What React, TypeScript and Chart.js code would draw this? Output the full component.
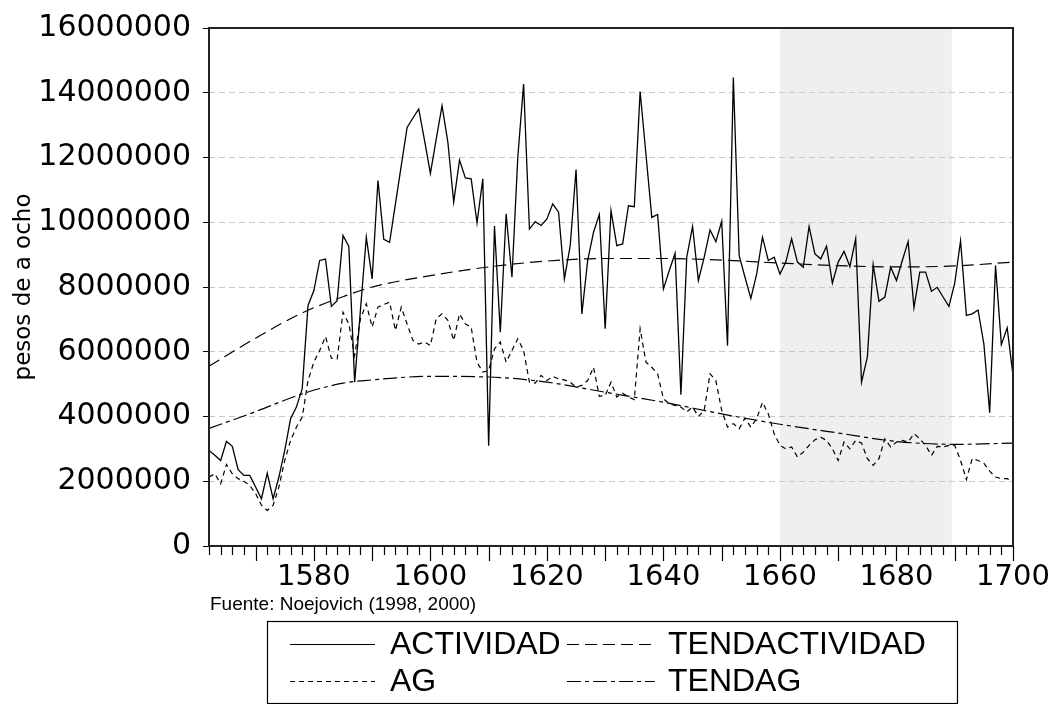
import React, { useEffect, useRef } from "react";
import { Chart, registerables } from "chart.js";

Chart.register(...registerables);

// ---- data (values in millions of pesos de a ocho) ----
const START_YEAR = 1562;
const END_YEAR = 1700;

const ACTIVIDAD = [
  2.95, 2.8, 2.64, 3.23, 3.08, 2.36, 2.18, 2.18, 1.82, 1.46,
  2.25, 1.46, 2.13, 2.95, 3.93, 4.29, 4.86, 7.43, 7.89, 8.82,
  8.86, 7.4, 7.58, 9.59, 9.25, 5.06, 7.3, 9.54, 8.25, 11.29,
  9.47, 9.38, 10.57, 11.75, 12.93, 13.22, 13.5, 12.52, 11.51, 12.57,
  13.6, 12.47, 10.62, 11.92, 11.37, 11.34, 9.98, 11.34, 3.1, 9.88,
  6.6, 10.26, 8.3, 12.0, 14.27, 9.79, 10.02, 9.9, 10.1, 10.57,
  10.31, 8.25, 9.28, 11.63, 7.17, 8.82, 9.69, 10.24, 6.71, 10.36,
  9.28, 9.33, 10.51, 10.48, 14.04, 12.1, 10.15, 10.24, 7.94, 8.51,
  9.04, 4.67, 8.92, 9.87, 8.2, 8.92, 9.76, 9.4, 10.03, 6.19,
  14.47, 8.97, 8.3, 7.65, 8.4, 9.54, 8.82, 8.92, 8.4, 8.77,
  9.49, 8.77, 8.61, 9.87, 9.02, 8.87, 9.26, 8.12, 8.77, 9.1,
  8.63, 9.49, 5.06, 5.83, 8.69, 7.56, 7.69, 8.61, 8.2, 8.82,
  9.4, 7.36, 8.46, 8.46, 7.87, 7.99, 7.69, 7.4, 8.12, 9.43,
  7.12, 7.17, 7.29, 6.24, 4.12, 8.66, 6.22, 6.74, 5.27,
];

const AG = [
  2.13, 2.23, 1.92, 2.52, 2.23, 2.08, 2.0, 1.87, 1.62, 1.26,
  1.1, 1.26, 1.82, 2.64, 3.26, 3.67, 3.98, 5.11, 5.68, 6.04,
  6.47, 5.8, 5.78, 7.22, 6.86, 5.88, 7.02, 7.48, 6.76, 7.38,
  7.46, 7.53, 6.66, 7.38, 6.86, 6.35, 6.24, 6.3, 6.19, 7.02,
  7.17, 6.97, 6.35, 7.17, 6.86, 6.76, 5.68, 5.37, 5.42, 6.09,
  6.3, 5.68, 6.04, 6.4, 6.04, 5.06, 5.03, 5.27, 5.11, 5.24,
  5.16, 5.13, 5.06, 4.91, 4.96, 5.11, 5.52, 4.62, 4.65, 5.06,
  4.6, 4.72, 4.6, 4.52, 6.71, 5.68, 5.52, 5.32, 4.55, 4.39,
  4.34, 4.29, 4.14, 4.29, 4.0, 4.19, 5.32, 5.11, 4.19, 3.67,
  3.78, 3.62, 3.95, 3.67, 3.93, 4.44, 4.08, 3.47, 3.11, 3.0,
  3.06, 2.75, 2.9, 3.11, 3.28, 3.36, 3.26, 3.0, 2.64, 3.21,
  3.0, 3.26, 3.18, 2.7, 2.49, 2.7, 3.31, 3.06, 3.21, 3.26,
  3.21, 3.47, 3.31, 3.11, 2.8, 3.08, 3.06, 3.11, 3.11, 2.64,
  2.05, 2.7, 2.64, 2.56, 2.31, 2.13, 2.08, 2.08, 1.98,
];

const TREND_YEARS = [1562, 1570, 1578, 1585, 1590, 1600, 1610, 1620, 1630, 1640, 1650, 1660, 1670, 1680, 1690, 1700];
const TENDACTIVIDAD = [5.55, 6.42, 7.2, 7.7, 8.0, 8.35, 8.62, 8.8, 8.88, 8.88, 8.83, 8.74, 8.66, 8.62, 8.65, 8.77];
const TENDAG = [3.63, 4.15, 4.7, 5.03, 5.13, 5.24, 5.22, 5.06, 4.75, 4.44, 4.08, 3.76, 3.49, 3.23, 3.14, 3.18];

const Y_MAX = 16000000;
const Y_STEP = 2000000;
const X_LABEL_EVERY = 20;
const X_TICK_EVERY = 2;
const X_MAJOR_EVERY = 10;
const SHADE_FROM = 1660;
const SHADE_TO = 1689.5;

const SERIES = ["ACTIVIDAD", "TENDACTIVIDAD", "AG", "TENDAG"];
const Y_TITLE = "pesos de a ocho";
const SOURCE = "Fuente: Noejovich (1998, 2000)";

const DASHES: Record<string, number[]> = {
  ACTIVIDAD: [],
  TENDACTIVIDAD: [12, 6],
  AG: [5, 4],
  TENDAG: [14, 4, 4, 4],
};

const W = 1059;
const H = 704;
const AREA = { left: 209, top: 28, right: 1013, bottom: 546 };

const toMillions = (v: number) => v * 1000000;

export default function App() {
  const ref = useRef<HTMLCanvasElement | null>(null);

  useEffect(() => {
    document.body.style.margin = "0";
    const canvas = ref.current;
    if (!canvas) return;

    const annual = (vals: number[]) => vals.map((v, i) => ({ x: START_YEAR + i, y: toMillions(v) }));
    const trend = (vals: number[]) => vals.map((v, i) => ({ x: TREND_YEARS[i], y: toMillions(v) }));

    const overlay = {
      id: "overlay",
      beforeDraw(chart: any) {
        const { ctx, chartArea, scales } = chart;
        const x0 = scales.x.getPixelForValue(SHADE_FROM);
        const x1 = scales.x.getPixelForValue(SHADE_TO);
        ctx.save();
        ctx.fillStyle = "#efefef";
        ctx.fillRect(x0, chartArea.top, x1 - x0, chartArea.bottom - chartArea.top);
        ctx.restore();
      },
      afterDraw(chart: any) {
        const { ctx, chartArea, scales } = chart;
        ctx.save();
        // frame
        ctx.strokeStyle = "#222";
        ctx.lineWidth = 2;
        ctx.setLineDash([]);
        ctx.strokeRect(chartArea.left, chartArea.top, chartArea.right - chartArea.left, chartArea.bottom - chartArea.top);
        // x ticks
        ctx.lineWidth = 1.2;
        ctx.strokeStyle = "#000";
        for (let yr = START_YEAR; yr <= END_YEAR; yr += X_TICK_EVERY) {
          const x = Math.round(scales.x.getPixelForValue(yr)) + 0.5;
          const len = yr % X_MAJOR_EVERY === 0 ? 15 : 9;
          ctx.beginPath();
          ctx.moveTo(x, chartArea.bottom);
          ctx.lineTo(x, chartArea.bottom + len);
          ctx.stroke();
        }
        // source
        ctx.fillStyle = "#000";
        ctx.font = '19px "Liberation Sans", Arial, sans-serif';
        ctx.textBaseline = "middle";
        ctx.textAlign = "left";
        ctx.fillText(SOURCE, 210, 605);
        // legend box
        const bx = 267, by = 621, bw = 690, bh = 82;
        ctx.lineWidth = 1.2;
        ctx.strokeStyle = "#000";
        ctx.strokeRect(bx + 0.5, by + 0.5, bw, bh);
        const rows = [644, 681];
        const cols = [
          { lx0: 290, lx1: 375, tx: 390 },
          { lx0: 567, lx1: 655, tx: 668 },
        ];
        const order = [
          [SERIES[0], SERIES[1]],
          [SERIES[2], SERIES[3]],
        ];
        ctx.font = '32px "Liberation Sans", Arial, sans-serif';
        order.forEach((row, ri) => {
          row.forEach((name, ci) => {
            const c = cols[ci];
            const y = rows[ri];
            ctx.setLineDash(DASHES[name]);
            ctx.lineWidth = 1.2;
            ctx.beginPath();
            ctx.moveTo(c.lx0, y + 0.5);
            ctx.lineTo(c.lx1, y + 0.5);
            ctx.stroke();
            ctx.setLineDash([]);
            ctx.fillText(name, c.tx, y + 1);
          });
        });
        ctx.restore();
      },
    };

    const chart = new Chart(canvas, {
      type: "line",
      data: {
        datasets: [
          { label: SERIES[0], data: annual(ACTIVIDAD), borderColor: "#000", borderWidth: 1.3, borderDash: DASHES.ACTIVIDAD, pointRadius: 0, tension: 0 },
          { label: SERIES[1], data: trend(TENDACTIVIDAD), borderColor: "#000", borderWidth: 1.2, borderDash: DASHES.TENDACTIVIDAD, pointRadius: 0, cubicInterpolationMode: "monotone" },
          { label: SERIES[2], data: annual(AG), borderColor: "#000", borderWidth: 1.2, borderDash: DASHES.AG, pointRadius: 0, tension: 0 },
          { label: SERIES[3], data: trend(TENDAG), borderColor: "#000", borderWidth: 1.2, borderDash: DASHES.TENDAG, pointRadius: 0, cubicInterpolationMode: "monotone" },
        ],
      } as any,
      options: {
        animation: false,
        responsive: false,
        maintainAspectRatio: false,
        events: [],
        layout: { padding: { left: 0, top: AREA.top, right: W - AREA.right, bottom: 0 } },
        plugins: { legend: { display: false }, tooltip: { enabled: false } },
        scales: {
          x: {
            type: "linear",
            min: START_YEAR,
            max: END_YEAR,
            afterFit: (s: any) => {
              s.height = H - AREA.bottom;
              s.paddingLeft = 0;
              s.paddingRight = 0;
            },
            afterBuildTicks: (s: any) => {
              const t = [];
              for (let yr = START_YEAR; yr <= END_YEAR; yr++) if (yr % X_LABEL_EVERY === 0) t.push({ value: yr });
              s.ticks = t;
            },
            ticks: {
              autoSkip: false,
              maxRotation: 0,
              padding: 14,
              color: "#000",
              font: { family: '"DejaVu Sans", sans-serif', size: 29 },
              callback: (v: any) => String(v),
            },
            grid: { display: false, drawTicks: false },
            border: { display: false },
          },
          y: {
            min: 0,
            max: Y_MAX,
            afterFit: (s: any) => {
              s.width = AREA.left;
              s.paddingTop = 0;
              s.paddingBottom = 0;
            },
            ticks: {
              stepSize: Y_STEP,
              padding: 12,
              color: "#000",
              font: { family: '"DejaVu Sans", sans-serif', size: 30 },
              callback: (v: any) => String(v),
            },
            grid: {
              color: (c: any) => (c.tick && (c.tick.value === 0 || c.tick.value === Y_MAX) ? "rgba(0,0,0,0)" : "#c8c8c8"),
              lineWidth: 1,
              tickLength: 6,
              tickColor: "#000",
              tickBorderDash: [],
              drawTicks: true,
            },
            border: { display: false, dash: [6, 4] },
            title: {
              display: true,
              text: Y_TITLE,
              color: "#000",
              font: { family: '"DejaVu Sans", sans-serif', size: 23, weight: "normal" },
              padding: { top: 10, bottom: 0 },
            },
          },
        },
      } as any,
      plugins: [overlay],
    });

    return () => chart.destroy();
  }, []);

  return <canvas ref={ref} width={W} height={H} style={{ display: "block", width: W, height: H }} />;
}
